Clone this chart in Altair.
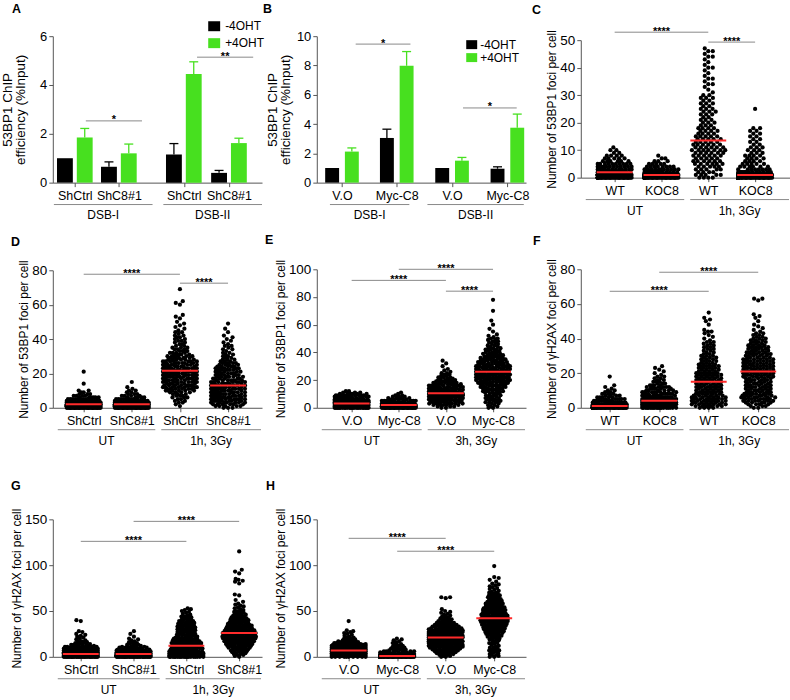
import math
from collections import Counter
import numpy as np
import pandas as pd
import altair as alt

FONT = "Liberation Sans"
GREEN = "#47e01f"
RED = "#ff2b2b"
AXC = "#555555"
LINEC = "#8a8a8a"

# ------------------------------------------------------------------ data
# Panel A: 53BP1 ChIP efficiency (%Input)
A_labels = ["ShCtrl", "ShC8#1", "ShCtrl", "ShC8#1"]
A_groups = ["DSB-I", "DSB-II"]
A_minus = [1.00, 0.65, 1.15, 0.40]
A_minus_err = [0.00, 0.20, 0.45, 0.10]
A_plus = [1.85, 1.20, 4.45, 1.62]
A_plus_err = [0.37, 0.38, 0.50, 0.20]
A_sig_labels = ["*", "**"]
A_sig_heights = [2.53, 5.14]

# Panel B
B_labels = ["V.O", "Myc-C8", "V.O", "Myc-C8"]
B_groups = ["DSB-I", "DSB-II"]
B_minus = [1.00, 3.05, 1.00, 0.95]
B_minus_err = [0.00, 0.60, 0.00, 0.13]
B_plus = [2.12, 7.98, 1.50, 3.75]
B_plus_err = [0.25, 0.97, 0.22, 0.93]
B_sig_labels = ["*", "*"]
B_sig_heights = [9.46, 5.10]

SERIES = ["-4OHT", "+4OHT"]
SERIES_COLORS = ["#000000", GREEN]

# Dot plots: number of cells having 0, 1, 2, ... foci, plus isolated high values
C_labels = ["WT", "KOC8", "WT", "KOC8"]
C_conds = ["UT", "1h, 3Gy"]
C_counts = [
    [40, 35, 25, 15, 12, 10, 6, 5, 4, 2, 2, 1],
    [50, 40, 20, 12, 8, 5, 3, 2, 1],
    [4, 5, 4, 5, 5, 6, 6, 5, 6, 6, 7, 6, 6, 5, 5, 5, 4, 4, 4, 3,
     3, 3, 2, 3, 3, 3, 2, 3, 2, 3, 2, 1, 1, 1, 2, 1, 2, 1, 1, 1,
     2, 1, 1, 1, 2, 1, 2, 1],
    [60, 40, 15, 8, 6, 5, 4, 4, 4, 3, 3, 3, 2, 2, 2, 2, 2, 2, 2],
]
C_tails = [[], [], [], [25]]
C_sigs = [("****", 1, 3, 52.9), ("****", 3, 4, 49.3)]

D_labels = ["ShCtrl", "ShC8#1", "ShCtrl", "ShC8#1"]
D_conds = ["UT", "1h, 3Gy"]
D_counts = [
    [35, 35, 30, 20, 12, 8, 6, 4, 3, 2, 2],
    [35, 35, 30, 20, 12, 8, 5, 4, 3, 2, 2, 1, 1],
    [0, 1, 1, 2, 2, 2, 3, 3, 3, 4, 6, 6, 7, 7, 6, 7, 7, 8, 8, 8,
     9, 9, 8, 8, 8, 8, 7, 7, 6, 5, 5, 4, 4, 3, 3, 3, 2, 2, 2, 2,
     2, 2, 2, 1, 2, 1, 1, 1, 1, 1, 1, 0, 1, 1, 1],
    [3, 5, 6, 7, 7, 8, 8, 8, 8, 8, 8, 8, 8, 8, 7, 7, 6, 6, 6, 5,
     5, 5, 5, 5, 5, 4, 4, 3, 3, 2, 2, 2, 2, 1, 2, 1, 2, 1, 1, 1,
     1, 1, 1, 0, 1, 0, 1, 0, 0, 1],
]
D_tails = [[14, 21], [15], [60, 61, 62, 69], []]
D_sigs = [("****", 1, 3, 77.7), ("****", 3, 4, 72.5)]

E_labels = ["V.O", "Myc-C8", "V.O", "Myc-C8"]
E_conds = ["UT", "3h, 3Gy"]
E_counts = [
    [25, 25, 22, 20, 16, 14, 12, 10, 9, 8, 6, 3, 2],
    [35, 30, 25, 15, 10, 7, 5, 4, 3, 2, 1, 1],
    [2, 3, 5, 7, 8, 9, 10, 10, 11, 11, 15, 10, 10, 9, 9, 8, 7, 6, 5, 5,
     4, 3, 3, 2, 2, 2, 1, 1, 1, 0, 1, 0, 1, 0, 1],
    [2, 2, 2, 2, 3, 3, 3, 3, 3, 3, 3, 3, 4, 4, 4, 5, 5, 5, 6, 6,
     7, 7, 7, 8, 8, 8, 8, 8, 7, 7, 7, 6, 6, 6, 5, 5, 5, 4, 4, 4,
     3, 3, 3, 3, 2, 2, 2, 2, 2, 2, 2, 1, 1, 1, 0, 1, 0, 1],
]
E_tails = [[], [], [], [60, 63, 70, 78]]
E_sigs = [("****", 1, 3, 92.0), ("****", 2, 4, 100.0), ("****", 3, 4, 84.2)]

F_labels = ["WT", "KOC8", "WT", "KOC8"]
F_conds = ["UT", "1h, 3Gy"]
F_counts = [
    [45, 35, 20, 12, 8, 6, 5, 4, 3, 2, 2, 1, 1, 1],
    [20, 22, 18, 18, 17, 15, 11, 9, 8, 7, 6, 5, 5, 4, 3, 3, 2, 2, 2, 1,
     1, 1, 1, 1, 1],
    [4, 6, 7, 7, 7, 7, 7, 6, 6, 5, 5, 5, 5, 5, 5, 5, 5, 5, 5, 5,
     5, 4, 4, 4, 4, 4, 3, 3, 3, 3, 3, 2, 2, 2, 2, 2, 2, 2, 2, 1,
     1, 1, 1, 1, 2, 1, 0, 0, 1, 0, 1, 1, 1],
    [2, 3, 4, 5, 6, 6, 7, 7, 6, 5, 5, 5, 5, 5, 5, 5, 5, 5, 6, 6,
     6, 6, 6, 6, 6, 6, 6, 6, 6, 5, 5, 5, 5, 4, 4, 4, 4, 3, 3, 3,
     3, 2, 2, 2, 1, 1, 1, 1, 1, 0, 1, 0, 1, 1, 1],
]
F_tails = [[18], [], [55], [62, 63, 63]]
F_sigs = [("****", 1, 3, 67.3), ("****", 2, 4, 78.3)]

G_labels = ["ShCtrl", "ShC8#1", "ShCtrl", "ShC8#1"]
G_conds = ["UT", "1h, 3Gy"]
G_counts = [
    [30, 30, 28, 22, 18, 14, 12, 10, 8, 7, 6, 5, 4, 3, 3, 2, 2, 2, 1, 1,
     1, 1, 1, 1, 1, 1, 0, 1, 1],
    [30, 35, 30, 25, 18, 14, 10, 8, 6, 5, 4, 3, 3, 2, 2, 2, 1, 1, 1, 1,
     1, 0, 1],
    [20, 20, 14, 12, 10, 8, 6, 5, 5, 5, 5, 5, 5, 5, 5, 5, 5, 5, 5, 5,
     5, 3, 3, 3, 3, 3, 3, 3, 3, 3, 3, 3, 3, 3, 3, 3, 3, 3, 3, 2,
     2, 2, 2, 2, 2, 1, 1, 1, 1, 1, 1, 1, 1, 1],
    [1, 1, 2, 2, 2, 2, 3, 3, 3, 3, 3, 4, 4, 4, 5, 5, 5, 5, 5, 5,
     5, 6, 6, 6, 6, 6, 6, 5, 5, 5, 5, 5, 5, 4, 4, 4, 4, 4, 3, 3,
     3, 3, 3, 3, 2, 2, 2, 2, 2, 2, 2, 1, 1, 1, 1, 1, 1, 1, 1],
]
G_tails = [[39, 40], [25, 28], [], [60, 62, 67, 68, 80, 82, 83, 84, 85, 91, 93, 95, 115]]
G_sigs = [("****", 1, 3, 126.0), ("****", 2, 4, 147.8)]

H_labels = ["V.O", "Myc-C8", "V.O", "Myc-C8"]
H_conds = ["UT", "3h, 3Gy"]
H_counts = [
    [10, 12, 14, 14, 14, 13, 13, 12, 12, 11, 10, 9, 8, 7, 6, 5, 4, 3, 3, 2,
     2, 2, 1, 1, 1, 1, 1, 1, 1, 1],
    [55, 40, 20, 10, 6, 5, 4, 3, 3, 3, 2, 2, 2, 2, 1, 1, 1, 1, 1, 1, 1],
    [2, 2, 2, 3, 3, 3, 4, 4, 4, 5, 5, 6, 6, 7, 7, 8, 8, 8, 9, 9,
     9, 9, 9, 9, 8, 8, 8, 7, 7, 6, 6, 5, 5, 4, 4, 4, 3, 3, 3, 2,
     2, 2, 2, 1, 2, 1, 1, 1, 1, 1, 1, 0, 1],
    [2, 1, 2, 1, 1, 2, 1, 2, 2, 1, 2, 1, 1, 1, 1, 2, 1, 1, 1, 2,
     2, 2, 2, 2, 3, 3, 3, 3, 3, 3, 3, 4, 4, 4, 4, 4, 4, 4, 4, 5,
     5, 5, 5, 5, 5, 4, 4, 4, 4, 4, 4, 4, 4, 4, 3, 3, 3, 3, 3, 3,
     3, 3, 2, 2, 2, 2, 2, 2, 2, 2, 2, 1, 1, 1, 1, 1, 1, 1, 1, 1, 1],
]
H_tails = [[39], [], [64, 65, 65], [82, 84, 86, 87, 99]]
H_sigs = [("****", 1, 3, 129.3), ("****", 2, 4, 115.2)]

TITLE_53 = "Number of 53BP1 foci per cell"
TITLE_H2 = "Number of \u03b3H2AX foci per cell"

# ------------------------------------------------------------------ layout
COL_W = 210
ROW_H = [147, 139, 163]
DIAM = 4.5
DOT_SIZE = 18
HALF_W = 17.0
MED_HALF = 18.0
GRID_N = 29
SPREAD_LOCAL = 0.33
SPREAD_ROW = 2.5


def expand(counts, tail):
    vals = []
    for v, c in enumerate(counts):
        vals += [v] * c
    vals += list(tail)
    return vals


def swarm(vals, ypu):
    """Deterministic beeswarm offsets (pixels) for a sorted list of values.
    The usable half-width grows with the number of points around each value."""
    arr = np.array(vals, dtype=float) * ypu
    per_value = Counter(vals)
    placed = []
    xs = []
    d2 = DIAM * DIAM
    for v, y in zip(vals, arr):
        n_local = int(np.sum(np.abs(arr - y) < DIAM))
        hw = min(HALF_W, max(DIAM, SPREAD_LOCAL * n_local, SPREAD_ROW * per_value[v]))
        near = [(px, py) for px, py in placed if abs(py - y) < DIAM]
        cands = [0.0]
        for px, py in near:
            dx = math.sqrt(max(d2 - (py - y) ** 2, 0.0))
            cands += [px - dx, px + dx]
        cands.sort(key=lambda c: (abs(c), c))
        chosen = None
        for c in cands:
            if abs(c) > hw + 1e-9:
                continue
            if all((c - px) ** 2 + (y - py) ** 2 >= d2 - 1e-6 for px, py in near):
                chosen = c
                break
        if chosen is None:
            # band is full: take the spot farthest from its neighbours
            best, best_d = 0.0, -1.0
            for i in range(GRID_N):
                c = -hw + 2 * hw * i / (GRID_N - 1)
                dmin = min((c - px) ** 2 + (y - py) ** 2 for px, py in near)
                if dmin > best_d + 1e-9:
                    best, best_d = c, dmin
            chosen = best
        placed.append((chosen, y))
        xs.append(chosen)
    return xs


def label_expr(values, labels):
    vs = "[" + ",".join(repr(float(v)) for v in values) + "]"
    ls = "[" + ",".join("'" + s + "'" for s in labels) + "]"
    return f"{ls}[indexof({vs}, datum.value)]"


def letter_layer(letter, dx, dy):
    return alt.Chart(pd.DataFrame({"t": [letter]})).mark_text(
        font=FONT, fontSize=12.5, fontWeight="bold", align="left",
        baseline="top", color="black").encode(
        x=alt.value(dx), y=alt.value(dy), text="t:N")


def y_axis(values, title, title_size, label_size, title_pad=5):
    return alt.Axis(values=values, title=title, grid=False, tickSize=4,
                    domainColor=AXC, tickColor=AXC, labelColor="black",
                    labelFont=FONT, labelFontSize=label_size, titleFont=FONT,
                    titleFontSize=title_size, titleFontWeight="normal",
                    titleColor="black", titlePadding=title_pad, labelPadding=2,
                    titleLineHeight=13)


def x_axis(values, labels, offset=0):
    return alt.Axis(values=values, labelExpr=label_expr(values, labels),
                    title=None, grid=False, tickSize=4, domainColor=AXC,
                    tickColor=AXC, labelColor="black", labelFont=FONT,
                    labelFontSize=12.5, labelPadding=3, offset=offset,
                    labelFlush=False, labelOverlap=False)


def annotations(X, Y, sigs, brackets, conds, bot):
    """X, Y: functions building the shared x / y encodings for a field."""
    layers = []
    sig_df = pd.DataFrame(sigs, columns=["lab", "x1", "x2", "y"])
    sig_df["xm"] = (sig_df["x1"] + sig_df["x2"]) / 2
    layers.append(alt.Chart(sig_df).mark_rule(color=LINEC, strokeWidth=1).encode(
        x=X("x1"), x2="x2:Q", y=Y("y")))
    layers.append(alt.Chart(sig_df).mark_text(
        font=FONT, fontSize=11, fontWeight="bold", baseline="alphabetic",
        dy=2.5, color="black").encode(x=X("xm"), y=Y("y"), text="lab:N"))
    br = pd.DataFrame({"x1": [b[0] for b in brackets],
                       "x2": [b[1] for b in brackets], "lab": conds})
    br["xm"] = (br["x1"] + br["x2"]) / 2
    layers.append(alt.Chart(br).mark_rule(color=LINEC, strokeWidth=1).encode(
        x=X("x1"), x2="x2:Q", y=alt.value(bot + 22)))
    layers.append(alt.Chart(br).mark_text(
        font=FONT, fontSize=12, baseline="middle", color="black").encode(
        x=X("xm"), y=alt.value(bot + 33), text="lab:N"))
    return layers


def bar_panel(letter, labels, groups, minus, minus_err, plus, plus_err,
              sig_labels, sig_heights, ymax, ystep, L):
    W, H = COL_W, ROW_H[0]
    lo, hi = L["domain"]
    ppu = W / (hi - lo)
    xs = alt.Scale(domain=[lo, hi], nice=False, zero=False)
    ys = alt.Scale(domain=[0, ymax], nice=False)
    xax = x_axis(L["centers"], labels)
    yax = y_axis(list(range(0, ymax + 1, ystep)),
                 ["53BP1 ChIP", "efficiency (%Input)"], 13.5, 13, L["title_pad"])

    def X(f):
        return alt.X(f + ":Q", scale=xs, axis=xax)

    def Y(f):
        return alt.Y(f + ":Q", scale=ys, axis=yax)

    bars, errs, caps = [], [], []
    for i, c in enumerate(L["centers"]):
        for s, (vals, ers) in enumerate([(minus, minus_err), (plus, plus_err)]):
            xc = c + (2 * s - 1) * L["off"]
            v, e = vals[i], ers[i]
            bars.append({"x": xc - L["hw"], "x2": xc + L["hw"], "v": v, "z": 0.0,
                         "s": SERIES[s]})
            if e > 0:
                errs.append({"x": xc, "v": v, "t": v + e, "s": SERIES[s]})
                caps.append({"x": xc - 4.5 / ppu, "x2": xc + 4.5 / ppu,
                             "t": v + e, "s": SERIES[s]})
    color = alt.Color("s:N", scale=alt.Scale(domain=SERIES, range=SERIES_COLORS),
                      legend=None)
    bar_layer = alt.Chart(pd.DataFrame(bars)).mark_bar().encode(
        x=X("x"), x2="x2:Q", y=Y("v"), y2="z:Q", color=color)
    err_layer = alt.Chart(pd.DataFrame(errs)).mark_rule(strokeWidth=1.3).encode(
        x=X("x"), y=Y("v"), y2="t:Q", color=color)
    cap_layer = alt.Chart(pd.DataFrame(caps)).mark_rule(strokeWidth=1.3).encode(
        x=X("x"), x2="x2:Q", y=Y("t"), color=color)
    sigs = [(lab, a, b, h) for lab, (a, b), h in zip(sig_labels, L["sig_spans"], sig_heights)]
    ann = annotations(X, Y, sigs, L["brackets"], groups, H)
    lx, ly, step, sw, sh, tx, fs = L["legend"]
    legend_layers = []
    for k, (name, col) in enumerate(zip(SERIES, SERIES_COLORS)):
        d = pd.DataFrame({"s": [name]})
        yk = ly + k * step
        legend_layers.append(alt.Chart(d).mark_rect(color=col).encode(
            x=alt.value(lx), x2=alt.value(lx + sw), y=alt.value(yk),
            y2=alt.value(yk + sh)))
        legend_layers.append(alt.Chart(d).mark_text(
            font=FONT, fontSize=fs, align="left", baseline="middle",
            color="black").encode(x=alt.value(lx + tx), y=alt.value(yk + sh / 2),
                                  text="s:N"))
    return alt.layer(bar_layer, err_layer, cap_layer, *ann, *legend_layers,
                     letter_layer(letter, *L["letter"])).resolve_scale(
        color="shared").properties(width=W, height=H)


def dot_panel(letter, labels, conds, counts, tails, ymax, ystep, ytitle, sigs, L):
    W, H = COL_W, L["H"]
    top, bot = L["top"], L["bot"]
    sp, lo = L["sp"], L["lo"]
    hi = lo + W / sp
    ypu = (bot - top) / ymax
    pts, meds = [], []
    for gi, (cnt, tl) in enumerate(zip(counts, tails)):
        vals = sorted(expand(cnt, tl))
        offs = swarm(vals, ypu)
        for v, o in zip(vals, offs):
            pts.append({"x": gi + 1 + o / sp, "y": v})
        m = float(np.median(vals))
        meds.append({"x": gi + 1 - MED_HALF / sp, "x2": gi + 1 + MED_HALF / sp, "y": m})
    xs = alt.Scale(domain=[lo, hi], nice=False, zero=False)
    ys = alt.Scale(domain=[0, ymax], range=[bot, top], nice=False)
    xax = x_axis([1, 2, 3, 4], labels, offset=bot - H)
    yax = y_axis(list(range(0, ymax + 1, ystep)), ytitle, 12, 13.5, 1)

    def X(f):
        return alt.X(f + ":Q", scale=xs, axis=xax)

    def Y(f):
        return alt.Y(f + ":Q", scale=ys, axis=yax)

    dots = alt.Chart(pd.DataFrame(pts)).mark_circle(
        size=DOT_SIZE, opacity=1, color="#000000").encode(x=X("x"), y=Y("y"))
    med = alt.Chart(pd.DataFrame(meds)).mark_rule(color=RED, strokeWidth=2).encode(
        x=X("x"), x2="x2:Q", y=Y("y"))
    mid = 2.55
    brackets = [(lo + 5 / sp, mid - 3 / sp), (mid + 3 / sp, hi - 1 / sp)]
    sig_rows = [(lab, float(a), float(b), h) for lab, a, b, h in sigs]
    ann = annotations(X, Y, sig_rows, brackets, conds, bot)
    return alt.layer(dots, med, *ann, letter_layer(letter, *L["letter"])).properties(
        width=W, height=H)


LAY_A = {"domain": (0.0, 9.5), "centers": [1.0, 3.0, 5.95, 8.0], "off": 0.45,
         "hw": 0.36, "sig_spans": [(1.5, 4.05), (6.55, 9.1)],
         "brackets": [(0.05, 4.53), (5.02, 9.5)], "title_pad": 12,
         "legend": (156, -15, 17, 12, 10, 17, 12), "letter": (-41, -33)}
LAY_B = {"domain": (0.0, 3.82), "centers": [0.46, 1.46, 2.47, 3.48], "off": 0.18,
         "hw": 0.127, "sig_spans": [(0.71, 1.71), (2.67, 3.65)],
         "brackets": [(0.24, 1.69), (2.02, 3.78)], "title_pad": 4,
         "legend": (150, 4, 13, 11, 9, 14, 12), "letter": (-54, -33)}

A = bar_panel("A", A_labels, A_groups, A_minus, A_minus_err, A_plus, A_plus_err,
              A_sig_labels, A_sig_heights, 6, 2, LAY_A)
B = bar_panel("B", B_labels, B_groups, B_minus, B_minus_err, B_plus, B_plus_err,
              B_sig_labels, B_sig_heights, 10, 2, LAY_B)
C = dot_panel("C", C_labels, C_conds, C_counts, C_tails, 50, 10, TITLE_53, C_sigs,
              {"H": 147, "top": 4, "bot": 142, "sp": 47.0, "lo": 0.277, "letter": (-49, -32)})
D = dot_panel("D", D_labels, D_conds, D_counts, D_tails, 80, 20, TITLE_53, D_sigs,
              {"H": 139, "top": 1, "bot": 139, "sp": 48.3, "lo": 0.358, "letter": (-42, -33)})
E = dot_panel("E", E_labels, E_conds, E_counts, E_tails, 100, 20, TITLE_53, E_sigs,
              {"H": 139, "top": 0, "bot": 139, "sp": 47.3, "lo": 0.26, "letter": (-52, -35)})
F = dot_panel("F", F_labels, F_conds, F_counts, F_tails, 80, 20, TITLE_H2, F_sigs,
              {"H": 139, "top": 0, "bot": 139, "sp": 49.7, "lo": 0.416, "letter": (-48, -34)})
G = dot_panel("G", G_labels, G_conds, G_counts, G_tails, 150, 50, TITLE_H2, G_sigs,
              {"H": 163, "top": 25, "bot": 163, "sp": 53.0, "lo": 0.47, "letter": (-42, -14)})
Hp = dot_panel("H", H_labels, H_conds, H_counts, H_tails, 150, 50, TITLE_H2, H_sigs,
               {"H": 163, "top": 25, "bot": 163, "sp": 48.7, "lo": 0.343, "letter": (-51, -14)})

chart = alt.concat(A, B, C, D, E, F, G, Hp, columns=3,
                   spacing={"row": 87, "column": 55}, bounds="flush",
                   align="each").properties(
    padding={"left": 0, "top": 2, "right": 0, "bottom": 0}
).configure(font=FONT).configure_view(stroke=None)

chart.save("out.html", embed_options={"renderer": "svg", "actions": False})
